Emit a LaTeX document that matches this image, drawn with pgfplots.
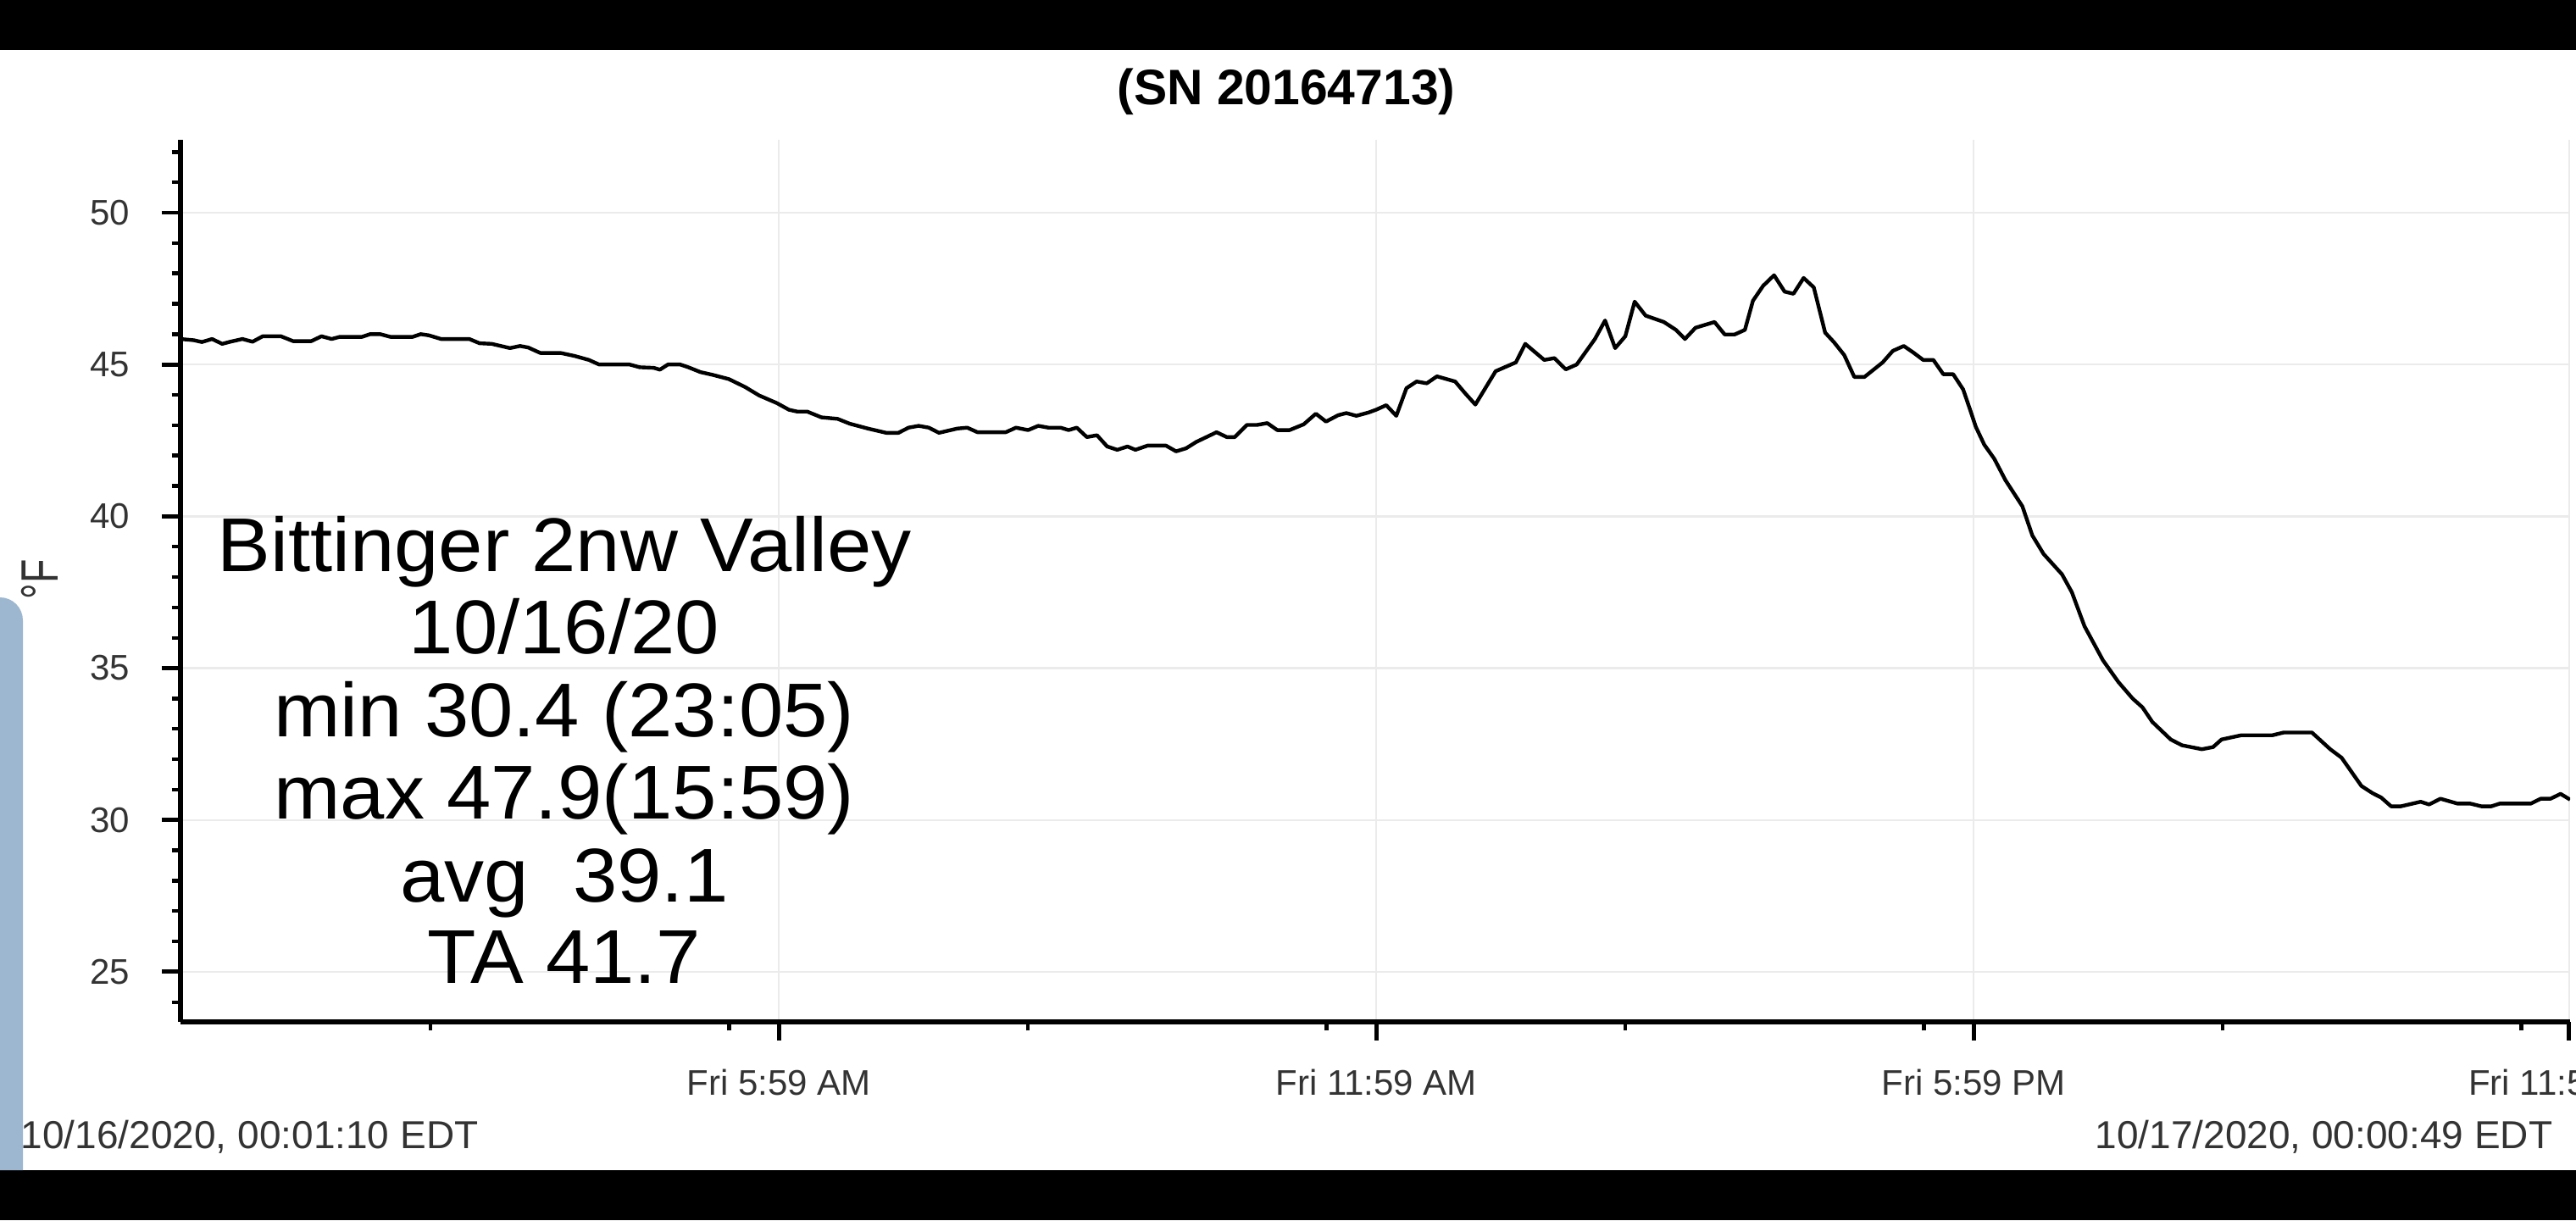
\documentclass[border=0pt]{standalone}
\usepackage{fontspec}
\setmainfont{Liberation Sans}
\usepackage{pgfplots}
\pgfplotsset{compat=1.18}
\definecolor{gridc}{HTML}{EBEBEB}
\definecolor{lab}{HTML}{333333}
\definecolor{bluebar}{HTML}{9DB7D1}
\pgfplotstableread{
h v
0.000 45.84
0.134 45.80
0.215 45.74
0.317 45.84
0.419 45.68
0.500 45.75
0.622 45.84
0.724 45.75
0.826 45.93
1.009 45.93
1.131 45.77
1.314 45.77
1.416 45.93
1.518 45.84
1.599 45.91
1.823 45.91
1.905 46.00
2.006 46.00
2.108 45.91
2.332 45.91
2.413 46.00
2.495 45.96
2.617 45.84
2.901 45.84
3.003 45.70
3.126 45.68
3.309 45.54
3.410 45.61
3.492 45.56
3.614 45.38
3.818 45.38
3.960 45.28
4.102 45.15
4.204 45.00
4.510 45.00
4.611 44.91
4.754 44.89
4.815 44.83
4.896 45.00
5.019 45.00
5.100 44.91
5.222 44.75
5.344 44.66
5.507 44.52
5.670 44.26
5.812 43.98
5.989 43.73
6.111 43.51
6.193 43.45
6.294 43.45
6.437 43.26
6.600 43.21
6.722 43.05
6.905 42.89
7.088 42.75
7.211 42.75
7.312 42.92
7.414 42.98
7.516 42.92
7.618 42.75
7.801 42.89
7.902 42.92
8.004 42.77
8.289 42.77
8.391 42.92
8.513 42.84
8.615 42.98
8.717 42.92
8.839 42.92
8.920 42.84
9.002 42.92
9.103 42.61
9.205 42.67
9.307 42.30
9.409 42.19
9.511 42.30
9.591 42.19
9.714 42.33
9.897 42.33
9.999 42.14
10.100 42.24
10.202 42.45
10.406 42.77
10.508 42.61
10.589 42.61
10.711 43.01
10.813 43.01
10.915 43.07
11.016 42.84
11.139 42.84
11.281 43.03
11.403 43.38
11.505 43.12
11.627 43.33
11.709 43.40
11.810 43.31
11.933 43.42
12.008 43.51
12.110 43.66
12.211 43.31
12.313 44.22
12.415 44.44
12.517 44.38
12.619 44.61
12.802 44.44
12.903 44.05
13.005 43.68
13.209 44.78
13.412 45.07
13.506 45.68
13.697 45.15
13.799 45.21
13.913 44.84
14.023 45.00
14.206 45.84
14.308 46.45
14.409 45.54
14.511 45.93
14.605 47.07
14.715 46.61
14.898 46.40
15.020 46.14
15.110 45.84
15.216 46.21
15.407 46.40
15.509 45.99
15.610 45.99
15.712 46.14
15.793 47.10
15.895 47.59
16.005 47.94
16.111 47.40
16.200 47.33
16.302 47.85
16.404 47.54
16.518 46.05
16.608 45.73
16.710 45.31
16.811 44.59
16.913 44.59
17.096 45.07
17.198 45.45
17.308 45.61
17.401 45.40
17.503 45.15
17.605 45.15
17.705 44.68
17.804 44.68
17.904 44.18
17.974 43.51
18.031 42.95
18.116 42.36
18.216 41.90
18.329 41.19
18.499 40.33
18.599 39.37
18.712 38.76
18.897 38.09
18.996 37.50
19.123 36.38
19.308 35.26
19.464 34.54
19.606 34.00
19.705 33.71
19.804 33.23
19.989 32.65
20.102 32.46
20.301 32.33
20.414 32.40
20.499 32.65
20.698 32.79
21.010 32.79
21.123 32.88
21.407 32.88
21.591 32.33
21.705 32.05
21.904 31.12
22.017 30.88
22.102 30.74
22.202 30.45
22.301 30.45
22.499 30.60
22.584 30.51
22.698 30.70
22.868 30.54
22.996 30.54
23.109 30.45
23.209 30.45
23.294 30.54
23.606 30.54
23.705 30.70
23.804 30.70
23.904 30.86
24.000 30.67
}\temps
\begin{document}
\begin{tikzpicture}[x=1pt,y=1pt]
\path[use as bounding box] (0,0) rectangle (760,360);
\fill[black] (0,0) rectangle (760,360);
\fill[white] (0,14.75) rectangle (760,345.25);
\fill[bluebar] (0,14.75) -- (6.75,14.75) -- (6.75,177) arc[start angle=0, end angle=90, radius=6.75] -- cycle;
\begin{axis}[
  at={(53.25pt,58.5pt)}, anchor=south west,
  scale only axis, width=705pt, height=260.25pt,
  xmin=0, xmax=24, ymin=23.35, ymax=52.4,
  axis lines=left,
  axis line style={-, line width=1.6pt, black},
  xtick={6.01,12.01,18.01,23.99},
  xticklabels={Fri 5:59 AM, Fri 11:59 AM, Fri 5:59 PM, Fri 11:59 PM},
  minor xtick={2.51,5.51,8.51,11.51,14.51,17.51,20.51,23.51},
  ytick={25,30,35,40,45,50},
  yticklabels={25,30,35,40,45,50},
  minor ytick={24,26,27,28,29,31,32,33,34,36,37,38,39,41,42,43,44,46,47,48,49,51,52},
  tick align=outside,
  major tick length=5.5pt, minor tick length=2.6pt,
  every major tick/.append style={line width=1.2pt, black},
  every minor tick/.append style={line width=1.1pt, black},
  grid=major,
  major grid style={gridc, line width=0.6pt},
  xticklabel style={font=\fontsize{10.5}{12}\selectfont, text=lab, anchor=base, inner sep=0pt, yshift=-16pt},
  yticklabel style={font=\fontsize{10.5}{12}\selectfont, text=lab, anchor=east, inner sep=0pt, xshift=-9.25pt},
]
\addplot[black, line width=1.1pt, line join=round, mark=none] table[x=h, y=v] {\temps};
\end{axis}
\node[anchor=base, font=\bfseries\fontsize{14.7}{17}\selectfont] at (379.5,329.25) {(SN 20164713)};
\node[rotate=90, text=lab, inner sep=0pt] at (11.75,189) {\scalebox{0.75}[1]{\fontsize{15.5}{18}\selectfont °F}};
\begin{scope}[every node/.style={anchor=base, inner sep=0pt, font=\fontsize{22.5}{26}\selectfont}]
\node at (166.5,191.5) {\scalebox{1.045}[1]{Bittinger 2nw Valley}};
\node at (166.5,167.25) {\scalebox{1.045}[1]{10/16/20}};
\node at (166.5,142.75) {\scalebox{1.045}[1]{min 30.4 (23:05)}};
\node at (166.5,118.4) {\scalebox{1.045}[1]{max 47.9(15:59)}};
\node at (166.5,94) {\scalebox{1.045}[1]{avg\ \ 39.1}};
\node at (166.5,70) {\scalebox{1.045}[1]{TA 41.7}};
\end{scope}
\node[anchor=base west, inner sep=0pt, text=lab, font=\fontsize{11.5}{13}\selectfont] at (6,21.25) {10/16/2020, 00:01:10 EDT};
\node[anchor=base east, inner sep=0pt, text=lab, font=\fontsize{11.5}{13}\selectfont] at (753.25,21.25) {10/17/2020, 00:00:49 EDT};
\end{tikzpicture}
\end{document}
